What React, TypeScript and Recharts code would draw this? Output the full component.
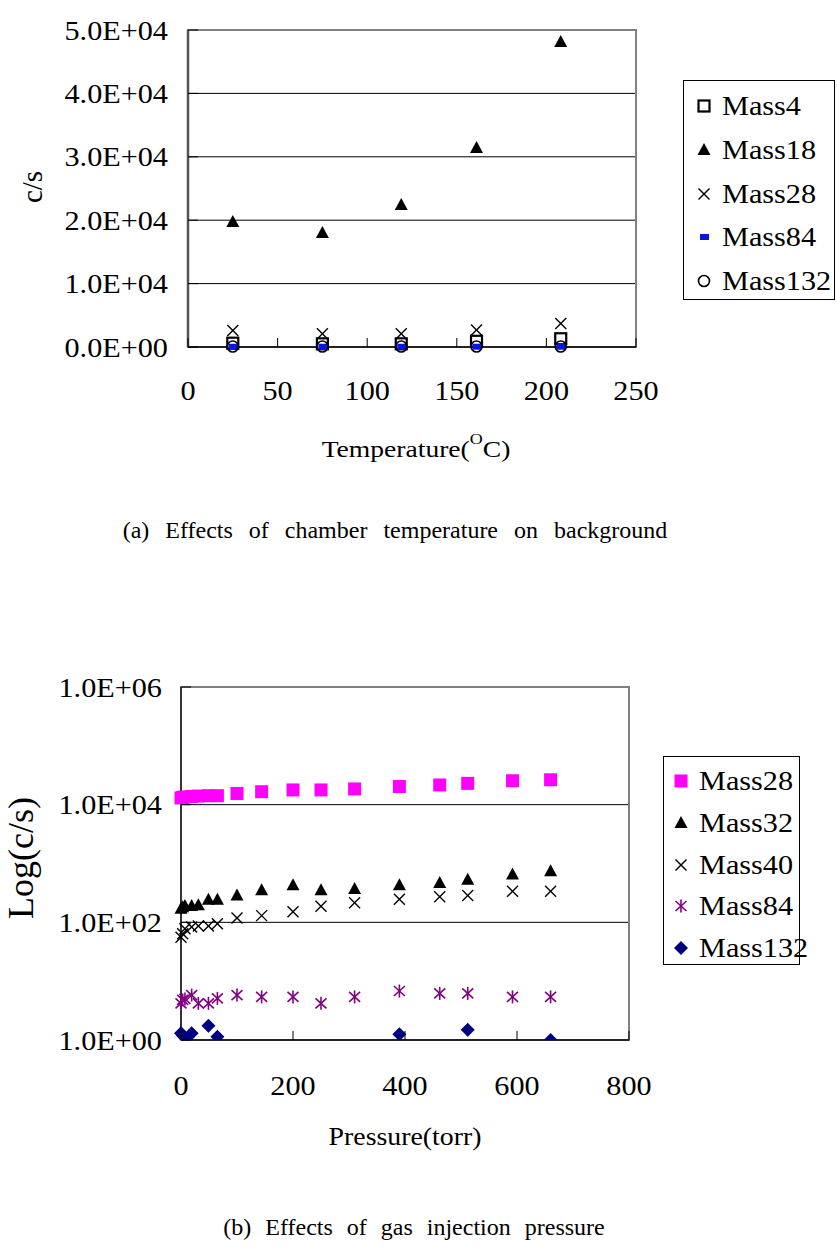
import { ScatterChart, Scatter, XAxis, YAxis, CartesianGrid, ReferenceArea } from "recharts"

const FONT = "'Liberation Serif', 'Times New Roman', serif"

// (a) chamber temperature vs background counts
const temperature = [25, 75, 119, 161, 208]
const tMass4 = [600, 500, 500, 900, 1300]
const tMass18 = [19700, 18000, 22400, 31400, 48100]
const tMass28 = [2600, 2100, 2100, 2700, 3700]
const tMass84 = [40, 40, 40, 40, 40]
const tMass132 = [80, 80, 80, 80, 80]
const tempTicks = [0, 50, 100, 150, 200, 250]
const countTicks = [0, 10000, 20000, 30000, 40000, 50000]

// (b) gas injection pressure vs counts (log)
const pressure = [0, 3, 7, 19, 31, 49, 65, 100, 144, 200, 250, 310, 390, 462, 512, 592, 660]
const pMass28 = [13000, 13300, 13500, 13800, 14000, 14200, 14200, 15500, 16600, 17800, 17800, 18500, 20300, 21600, 23000, 25500, 26500]
const pMass32 = [170, 180, 190, 190, 195, 242, 242, 287, 350, 425, 350, 370, 425, 465, 530, 650, 740]
const pMass40 = [56, 64, 78, 83, 87, 87, 95, 118, 130, 152, 187, 215, 247, 272, 285, 336, 336]
const pMass84 = [4.2, 4.8, 5.0, 5.8, 4.2, 4.2, 5.1, 5.8, 5.4, 5.4, 4.2, 5.4, 6.8, 6.2, 6.2, 5.4, 5.4]
const pMass132 = [1.3, 1.2, 1.1, 1.3, null, 1.75, 1.14, null, null, null, null, null, 1.25, null, 1.5, null, 1.0]
const pressureTicks = [0, 200, 400, 600, 800]
const logTicks = [1, 100, 10000, 1000000]

const toPoints = (xs: number[], ys: (number | null)[]) =>
  xs.map((x, i) => ({ x, y: ys[i] })).filter((d) => d.y != null)

function sci(v: number) {
  if (v === 0) return "0.0E+00"
  const e = Math.floor(Math.log10(v) + 1e-9)
  const m = v / Math.pow(10, e)
  return `${m.toFixed(1)}E+${String(e).padStart(2, "0")}`
}

// marker shapes
const openSquare = ({ cx, cy }: any) => (
  <rect x={cx - 5.5} y={cy - 5.5} width={11} height={11} fill="#fff" stroke="#000" strokeWidth={2.2} />
)
const triangle = ({ cx, cy }: any) => (
  <polygon points={`${cx},${cy - 7} ${cx + 6.5},${cy + 5} ${cx - 6.5},${cy + 5}`} fill="#000" />
)
const cross = ({ cx, cy }: any) => (
  <g stroke="#000" strokeWidth={1.4}>
    <line x1={cx - 5.5} y1={cy - 5.5} x2={cx + 5.5} y2={cy + 5.5} />
    <line x1={cx - 5.5} y1={cy + 5.5} x2={cx + 5.5} y2={cy - 5.5} />
  </g>
)
const blueDash = ({ cx, cy }: any) => (
  <rect x={cx - 4} y={cy - 3} width={9} height={6} fill="#0a14e6" />
)
const openCircle = ({ cx, cy }: any) => (
  <circle cx={cx} cy={cy} r={5.5} fill="none" stroke="#000" strokeWidth={1.6} />
)
const pinkSquare = ({ cx, cy }: any) => (
  <rect x={cx - 6.5} y={cy - 6.5} width={13} height={13} fill="#ff00ff" />
)
const asterisk = ({ cx, cy }: any) => (
  <g stroke="#800080" strokeWidth={1.6}>
    <line x1={cx} y1={cy - 6.5} x2={cx} y2={cy + 6.5} />
    <line x1={cx - 5.5} y1={cy - 5} x2={cx + 5.5} y2={cy + 5} />
    <line x1={cx - 5.5} y1={cy + 5} x2={cx + 5.5} y2={cy - 5} />
  </g>
)
const diamond = ({ cx, cy }: any) => (
  <polygon points={`${cx},${cy - 7} ${cx + 7},${cy} ${cx},${cy + 7} ${cx - 7},${cy}`} fill="#000080" />
)

const topSeries = [
  { name: "Mass4", ys: tMass4, shape: openSquare },
  { name: "Mass18", ys: tMass18, shape: triangle },
  { name: "Mass28", ys: tMass28, shape: cross },
  { name: "Mass84", ys: tMass84, shape: blueDash },
  { name: "Mass132", ys: tMass132, shape: openCircle },
]
const bottomSeries = [
  { name: "Mass28", ys: pMass28, shape: pinkSquare },
  { name: "Mass32", ys: pMass32, shape: triangle },
  { name: "Mass40", ys: pMass40, shape: cross },
  { name: "Mass84", ys: pMass84, shape: asterisk },
  { name: "Mass132", ys: pMass132, shape: diamond },
]

// ticks sit inside the plot, labels outside
function XTick({ x, y, payload, gap }: any) {
  return (
    <g>
      <line x1={x} y1={y - gap} x2={x} y2={y - gap - 9} stroke="#000" strokeWidth={1} />
      <text transform={`translate(${x},${y}) scale(1.12,1)`} textAnchor="middle" dy="0.71em" fontSize={27} fontFamily={FONT} fill="#000">
        {payload.value}
      </text>
    </g>
  )
}

function YTick({ x, y, payload, gap }: any) {
  return (
    <g>
      <line x1={x + gap} y1={y} x2={x + gap + 10} y2={y} stroke="#000" strokeWidth={1} />
      <text transform={`translate(${x},${y}) scale(1.12,1)`} textAnchor="end" dy="0.355em" fontSize={27} fontFamily={FONT} fill="#000">
        {sci(payload.value)}
      </text>
    </g>
  )
}

// axis titles, placed in the chart's own svg coordinates
function TempTitle({ tx, ty }: any) {
  return (
    <text transform={`translate(${tx},${ty}) scale(1.2,1)`} textAnchor="middle" fontSize={23} fontFamily={FONT} fill="#000">
      Temperature(
      <tspan fontSize={15} dy={-13}>O</tspan>
      <tspan dy={13}>C)</tspan>
    </text>
  )
}

function HTitle({ tx, ty, text, size, stretch }: any) {
  return (
    <text transform={`translate(${tx},${ty}) scale(${stretch},1)`} textAnchor="middle" fontSize={size} fontFamily={FONT} fill="#000">
      {text}
    </text>
  )
}

function VTitle({ tx, ty, text, size }: any) {
  return (
    <text transform={`translate(${tx},${ty}) rotate(-90)`} textAnchor="middle" fontSize={size} fontFamily={FONT} fill="#000">
      {text}
    </text>
  )
}

function LegendBox({ items, left, top, width, height, first, step, markerX, textX }: any) {
  return (
    <div style={{ position: "absolute", left, top, width, height, border: "1px solid #000", boxSizing: "border-box", background: "#fff" }}>
      {items.map((s: any, i: number) => (
        <div key={s.name} style={{ position: "absolute", left: 0, top: first + i * step - 16, height: 32, width: "100%" }}>
          <svg width={20} height={20} style={{ position: "absolute", left: markerX - 10, top: 6 }}>
            {s.shape({ cx: 10, cy: 10 })}
          </svg>
          <span style={{ position: "absolute", left: textX, top: 0, lineHeight: "32px", fontSize: 27, fontFamily: FONT, transform: "scaleX(1.12)", transformOrigin: "left center", whiteSpace: "nowrap" }}>
            {s.name}
          </span>
        </div>
      ))}
    </div>
  )
}

const caption = { position: "absolute" as const, left: 0, fontSize: 24, fontFamily: FONT, lineHeight: "28px", textAlign: "center" as const }

export default function App() {
  return (
    <div style={{ position: "absolute", left: 0, top: 0, width: 837, height: 1251, background: "#fff", overflow: "hidden" }}>
      <div style={{ position: "absolute", left: 0, top: 0 }}>
        <ScatterChart width={837} height={480} margin={{ top: 30, right: 201, bottom: 13, left: 0 }}>
          <CartesianGrid horizontal vertical={false} stroke="#000" strokeWidth={1} />
          <ReferenceArea x1={0} x2={250} y1={0} y2={50000} fill="none" stroke="#808080" strokeWidth={2} />
          <XAxis
            type="number"
            dataKey="x"
            domain={[0, 250]}
            ticks={tempTicks}
            height={120}
            tickSize={0}
            tickMargin={34}
            axisLine={{ stroke: "#222", strokeWidth: 2 }}
            tick={(p: any) => <XTick {...p} gap={34} />}
            label={<TempTitle tx={416} ty={457} />}
          />
          <YAxis
            type="number"
            dataKey="y"
            domain={[0, 50000]}
            ticks={countTicks}
            width={188}
            tickSize={0}
            tickMargin={20}
            axisLine={{ stroke: "#555", strokeWidth: 2.5 }}
            tick={(p: any) => <YTick {...p} gap={20} />}
            label={<VTitle text="c/s" tx={42} ty={187} size={29} />}
          />
          {topSeries.map((s) => (
            <Scatter key={s.name} name={s.name} data={toPoints(temperature, s.ys)} shape={s.shape} isAnimationActive={false} />
          ))}
        </ScatterChart>
      </div>
      <LegendBox items={topSeries} left={683} top={80} width={152} height={220} first={25} step={43.75} markerX={20} textX={38} />
      <div style={{ ...caption, top: 516, width: 790, wordSpacing: 10 }}>
        (a) Effects of chamber temperature on background
      </div>

      <div style={{ position: "absolute", left: 0, top: 640 }}>
        <ScatterChart width={837} height={520} margin={{ top: 47, right: 208, bottom: 10, left: 0 }}>
          <CartesianGrid horizontal vertical={false} stroke="#000" strokeWidth={1} />
          <ReferenceArea x1={0} x2={800} y1={1} y2={1000000} fill="none" stroke="#808080" strokeWidth={2} />
          <XAxis
            type="number"
            dataKey="x"
            domain={[0, 800]}
            ticks={pressureTicks}
            height={110}
            tickSize={0}
            tickMargin={36}
            axisLine={{ stroke: "#222", strokeWidth: 2 }}
            tick={(p: any) => <XTick {...p} gap={36} />}
            label={<HTitle text="Pressure(torr)" tx={405} ty={505} size={26} stretch={1.07} />}
          />
          <YAxis
            type="number"
            dataKey="y"
            scale="log"
            domain={[1, 1000000]}
            ticks={logTicks}
            allowDataOverflow
            width={181}
            tickSize={0}
            tickMargin={19}
            axisLine={{ stroke: "#333", strokeWidth: 2 }}
            tick={(p: any) => <YTick {...p} gap={19} />}
            label={<VTitle text="Log(c/s)" tx={33} ty={218} size={36} />}
          />
          {bottomSeries.map((s) => (
            <Scatter key={s.name} name={s.name} data={toPoints(pressure, s.ys)} shape={s.shape} isAnimationActive={false} />
          ))}
        </ScatterChart>
      </div>
      <LegendBox items={bottomSeries} left={663} top={756} width={137} height={209} first={24} step={41.75} markerX={17} textX={35} />
      <div style={{ ...caption, top: 1213, width: 828, wordSpacing: 8 }}>
        (b) Effects of gas injection pressure
      </div>
    </div>
  )
}
